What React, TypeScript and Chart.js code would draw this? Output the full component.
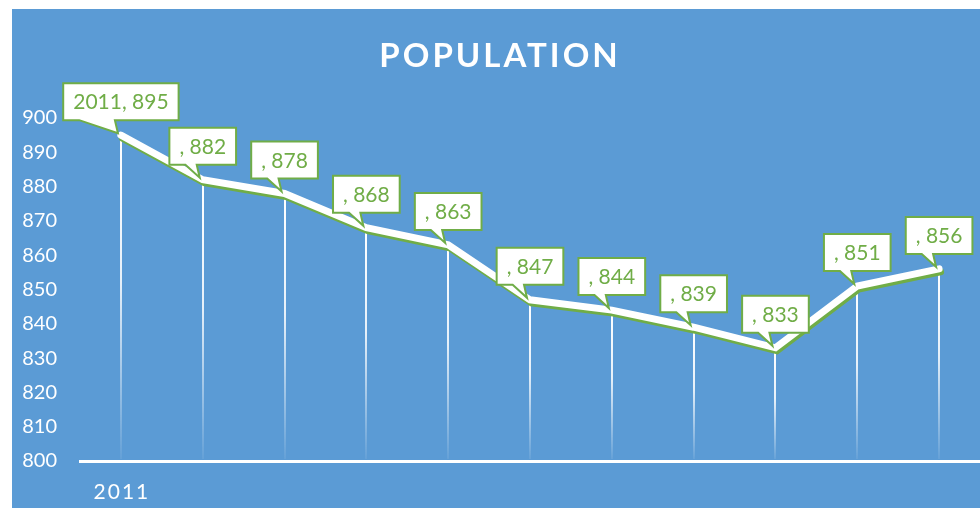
import React, { useEffect, useRef } from "react";
import { Chart, registerables } from "chart.js";

Chart.register(...registerables);

// ---- data ----
const categories = ["2011", "", "", "", "", "", "", "", "", "", ""];
const population = [895, 882, 878, 868, 863, 847, 844, 839, 833, 851, 856];
const yMin = 800;
const yMax = 900;
const yStep = 10;
const chartTitle = "POPULATION";

// ---- styles ----
const BLUE = "#5B9BD5";
const GREEN = "#70AD47";
const WHITE = "#FFFFFF";
const FONT = "Lato, 'Open Sans', sans-serif";

const titlePlugin = {
  id: "letterSpacedTitle",
  afterDraw(chart: any) {
    const ctx = chart.ctx;
    ctx.save();
    ctx.font = `bold 33px ${FONT}`;
    (ctx as any).letterSpacing = "3px";
    ctx.fillStyle = WHITE;
    ctx.textAlign = "center";
    ctx.textBaseline = "alphabetic";
    ctx.fillText(chartTitle, chart.width / 2 + 4, 58);
    ctx.restore();
  },
};

const xLabelPlugin = {
  id: "xLabels",
  afterDraw(chart: any) {
    const ctx = chart.ctx;
    const xs = chart.scales.x;
    ctx.save();
    ctx.font = `21px ${FONT}`;
    (ctx as any).letterSpacing = "2px";
    ctx.fillStyle = WHITE;
    ctx.textAlign = "center";
    ctx.textBaseline = "alphabetic";
    categories.forEach((c, i) => {
      if (!c) return;
      ctx.fillText(c, xs.getPixelForValue(i) + 1, chart.chartArea.bottom + 38);
    });
    ctx.restore();
  },
};

const dropLinePlugin = {
  id: "dropLines",
  beforeDatasetsDraw(chart: any) {
    const ctx = chart.ctx;
    const meta = chart.getDatasetMeta(0);
    const bottom = chart.chartArea.bottom;
    ctx.save();
    ctx.lineWidth = 2;
    meta.data.forEach((pt: any) => {
      const g = ctx.createLinearGradient(0, pt.y, 0, bottom);
      g.addColorStop(0, "rgba(255,255,255,1)");
      g.addColorStop(0.45, "rgba(255,255,255,0.85)");
      g.addColorStop(1, "rgba(255,255,255,0.05)");
      ctx.strokeStyle = g;
      ctx.beginPath();
      ctx.moveTo(Math.round(pt.x), pt.y);
      ctx.lineTo(Math.round(pt.x), bottom - 2);
      ctx.stroke();
    });
    ctx.restore();
  },
};

const shadowPlugin = {
  id: "lineShadow",
  beforeDatasetDraw(chart: any) {
    const ctx = chart.ctx;
    ctx.save();
    ctx.shadowColor = GREEN;
    ctx.shadowBlur = 0;
    ctx.shadowOffsetX = 1.5;
    ctx.shadowOffsetY = 3;
  },
  afterDatasetDraw(chart: any) {
    chart.ctx.restore();
  },
};

const calloutPlugin = {
  id: "callouts",
  afterDatasetsDraw(chart: any) {
    const ctx = chart.ctx;
    const meta = chart.getDatasetMeta(0);
    ctx.save();
    ctx.font = `21px ${FONT}`;
    meta.data.forEach((pt: any, i: number) => {
      const text = `${categories[i]}, ${population[i]}`;
      const tw = ctx.measureText(text).width;
      const w = tw + 20;
      const h = 37;
      const px = pt.x;
      const py = pt.y;
      const x0 = px - w / 2;
      const y1 = py - 15;
      const y0 = y1 - h;
      ctx.beginPath();
      ctx.moveTo(x0, y0);
      ctx.lineTo(x0 + w, y0);
      ctx.lineTo(x0 + w, y1);
      ctx.lineTo(px - 6, y1);
      ctx.lineTo(px - 3, py - 2);
      ctx.lineTo(x0 + 16, y1);
      ctx.lineTo(x0, y1);
      ctx.closePath();
      ctx.fillStyle = WHITE;
      ctx.fill();
      ctx.lineWidth = 2;
      ctx.strokeStyle = GREEN;
      ctx.lineJoin = "miter";
      ctx.stroke();
      ctx.fillStyle = GREEN;
      ctx.textAlign = "center";
      ctx.textBaseline = "middle";
      ctx.fillText(text, px, y0 + h / 2 + 1);
    });
    ctx.restore();
  },
};

export default function App() {
  const canvasRef = useRef<HTMLCanvasElement | null>(null);

  useEffect(() => {
    if (!canvasRef.current) return;
    const chart = new Chart(canvasRef.current, {
      type: "line",
      data: {
        labels: categories,
        datasets: [
          {
            label: chartTitle,
            data: population,
            borderColor: WHITE,
            borderWidth: 7,
            pointRadius: 0,
            pointHoverRadius: 0,
            tension: 0,
            fill: false,
            clip: false as any,
            borderCapStyle: "round",
          },
        ],
      },
      options: {
        animation: false,
        responsive: false,
        devicePixelRatio: 1,
        events: [],
        layout: { padding: { top: 109, left: 0, right: 0, bottom: 0 } },
        plugins: {
          legend: { display: false },
          title: { display: false },
          tooltip: { enabled: false },
        },
        scales: {
          x: {
            type: "category",
            offset: true,
            grid: { display: false, drawTicks: false },
            border: { display: true, color: WHITE, width: 3 },
            ticks: { display: false },
            afterFit(scale: any) {
              scale.height = 47;
            },
          },
          y: {
            min: yMin,
            max: yMax,
            grid: { display: false, drawTicks: false },
            border: { display: false },
            ticks: {
              stepSize: yStep,
              color: WHITE,
              padding: 23,
              font: { family: FONT, size: 20 },
            },
            afterFit(scale: any) {
              scale.width = 68;
            },
          },
        },
      },
      plugins: [dropLinePlugin, shadowPlugin, calloutPlugin, titlePlugin, xLabelPlugin],
    });
    return () => chart.destroy();
  }, []);

  return (
    <div
      style={{
        position: "absolute",
        left: 12,
        top: 9,
        width: 968,
        height: 499,
        background: BLUE,
      }}
    >
      <canvas ref={canvasRef} width={968} height={499} style={{ display: "block" }} />
    </div>
  );
}
